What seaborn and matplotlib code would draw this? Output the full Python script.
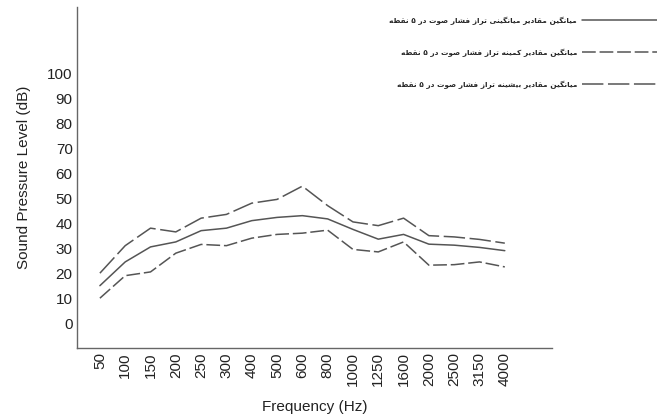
import matplotlib
matplotlib.use("Agg")
import matplotlib.pyplot as plt
import seaborn as sns
import pandas as pd

freqs = ["50", "100", "150", "200", "250", "300", "400", "500", "600", "800",
         "1000", "1250", "1600", "2000", "2500", "3150", "4000"]
spl_mean = [15, 24.5, 30.5, 32.5, 37, 38, 41, 42.3, 43, 41.7, 37.5, 33.6, 35.5, 31.6, 31.2, 30.3, 29]
spl_min = [10, 19, 20.5, 28, 31.5, 31, 34, 35.5, 36, 37.2, 29.5, 28.5, 32.5, 23.2, 23.4, 24.5, 22.5]
spl_max = [20, 31, 38, 36.5, 42, 43.5, 48, 49.5, 54.8, 47, 40.5, 39, 42, 35, 34.5, 33.5, 32]
y_ticks = [0, 10, 20, 30, 40, 50, 60, 70, 80, 90, 100]

label_mean = "میانگین مقادیر میانگینی تراز فشار صوت در ۵ نقطه"
label_min = "میانگین مقادیر کمینه تراز فشار صوت در ۵ نقطه"
label_max = "میانگین مقادیر بیشینه تراز فشار صوت در ۵ نقطه"

# matplotlib has no arabic shaping, so map letters to presentation forms
# (isolated, final, initial, medial) and reverse for right-to-left display
FORMS = {
    "ا": "\uFE8D\uFE8E", "د": "\uFEA9\uFEAA", "ر": "\uFEAD\uFEAE",
    "ز": "\uFEAF\uFEB0", "و": "\uFEED\uFEEE",
    "ب": "\uFE8F\uFE90\uFE91\uFE92", "ت": "\uFE95\uFE96\uFE97\uFE98",
    "ش": "\uFEB5\uFEB6\uFEB7\uFEB8", "ص": "\uFEB9\uFEBA\uFEBB\uFEBC",
    "ط": "\uFEC1\uFEC2\uFEC3\uFEC4", "ف": "\uFED1\uFED2\uFED3\uFED4",
    "ق": "\uFED5\uFED6\uFED7\uFED8", "م": "\uFEE1\uFEE2\uFEE3\uFEE4",
    "ن": "\uFEE5\uFEE6\uFEE7\uFEE8", "ه": "\uFEE9\uFEEA\uFEEB\uFEEC",
    "ک": "\uFB8E\uFB8F\uFB90\uFB91", "گ": "\uFB92\uFB93\uFB94\uFB95",
    "ی": "\uFBFC\uFBFD\uFBFE\uFBFF",
}


def shape(text):
    out = []
    for i, ch in enumerate(text):
        if ch not in FORMS:
            out.append(ch)
            continue
        prev = text[i - 1] if i > 0 else " "
        nxt = text[i + 1] if i + 1 < len(text) else " "
        join_prev = prev in FORMS and len(FORMS[prev]) == 4
        join_next = len(FORMS[ch]) == 4 and nxt in FORMS
        f = FORMS[ch]
        if join_prev and join_next:
            out.append(f[3])
        elif join_prev:
            out.append(f[1])
        elif join_next:
            out.append(f[2])
        else:
            out.append(f[0])
    return "".join(out)[::-1]


sns.set_style("white")
plt.rcParams["font.family"] = ["Liberation Sans", "DejaVu Sans"]

df = pd.DataFrame({"freq": freqs, "mean": spl_mean, "min": spl_min, "max": spl_max})

fig = plt.figure(figsize=(6.57, 4.17), dpi=100)
ax = fig.add_axes([0.117, 0.165, 0.723, 0.818])

line_col = "#555555"
sns.lineplot(data=df, x="freq", y="mean", ax=ax, color=line_col, lw=1.1,
             label=shape(label_mean), sort=False)
sns.lineplot(data=df, x="freq", y="min", ax=ax, color=line_col, lw=1.1,
             linestyle=(0, (9, 2.5)), label=shape(label_min), sort=False)
sns.lineplot(data=df, x="freq", y="max", ax=ax, color=line_col, lw=1.1,
             linestyle=(0, (14, 3)), label=shape(label_max), sort=False)

ax.set_xlim(-0.91, 17.86)
ax.set_ylim(-10, 126.4)
ax.set_yticks(y_ticks)
ax.set_yticklabels([str(v) for v in y_ticks])
ax.set_xticks(range(len(freqs)))
ax.set_xticklabels(freqs, rotation=90)
ax.tick_params(length=0, labelsize=11, colors="#222222", pad=3)

for side in ["top", "right"]:
    ax.spines[side].set_visible(False)
for side in ["left", "bottom"]:
    ax.spines[side].set_color("#666666")
    ax.spines[side].set_linewidth(1.0)

ax.set_xlabel("Frequency (Hz)", fontsize=11, color="#222222", labelpad=10)
ax.set_ylabel("Sound Pressure Level (dB)", fontsize=11, color="#222222", labelpad=12)

ax.legend(loc="upper right", bbox_to_anchor=(1.042, 0.96), bbox_transform=fig.transFigure,
          frameon=False, markerfirst=False, handlelength=14, handletextpad=0.6,
          labelspacing=3.2, borderpad=0, borderaxespad=0,
          prop={"family": "DejaVu Sans", "size": 5.3, "weight": "bold"})

fig.savefig("out.png", dpi=100)
